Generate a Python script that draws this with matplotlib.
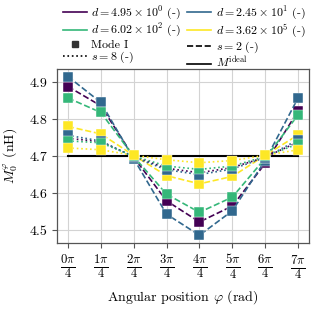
import numpy as np
import matplotlib
matplotlib.use("Agg")
import matplotlib.pyplot as plt
from matplotlib.lines import Line2D

plt.rcParams['font.family'] = ['cmr10', 'DejaVu Serif']
plt.rcParams['mathtext.fontset'] = 'cm'
plt.rcParams['axes.unicode_minus'] = False
plt.rcParams['axes.formatter.use_mathtext'] = True

positions = [0, 1, 2, 3, 4, 5, 6, 7]
tick_labels = [r"$\frac{%d\pi}{4}$" % k for k in positions]
d_labels = [r"$d = 4.95\times10^{0}$ (-)", r"$d = 2.45\times10^{1}$ (-)",
            r"$d = 6.02\times10^{2}$ (-)", r"$d = 3.62\times10^{5}$ (-)"]
colors = ["#440154", "#31688e", "#35b779", "#fde725"]

# s = 2 (dashed)
s2_purple = [4.888, 4.836, 4.697, 4.579, 4.522, 4.565, 4.680, 4.822]
s2_blue   = [4.915, 4.845, 4.693, 4.543, 4.486, 4.552, 4.688, 4.857]
s2_green  = [4.857, 4.818, 4.699, 4.597, 4.548, 4.589, 4.694, 4.811]
s2_yellow = [4.780, 4.760, 4.702, 4.647, 4.625, 4.645, 4.702, 4.757]
# s = 8 (dotted)
s8_purple = [4.748, 4.739, 4.699, 4.667, 4.655, 4.669, 4.697, 4.738]
s8_blue   = [4.756, 4.741, 4.697, 4.663, 4.650, 4.665, 4.696, 4.744]
s8_green  = [4.741, 4.736, 4.700, 4.673, 4.664, 4.673, 4.699, 4.733]
s8_yellow = [4.722, 4.717, 4.702, 4.690, 4.682, 4.688, 4.702, 4.717]
m_ideal = 4.701

s2_all = [s2_purple, s2_blue, s2_green, s2_yellow]
s8_all = [s8_purple, s8_blue, s8_green, s8_yellow]

fig = plt.figure(figsize=(3.12, 3.10), dpi=100)
ax = fig.add_axes([0.183, 0.216, 0.807, 0.561])

ax.plot([positions[0], positions[-1]], [m_ideal, m_ideal], color='black', lw=1.5, zorder=2)

for vals, c in zip(s2_all, colors):
    ax.plot(positions, vals, ls='--', color=c, lw=1.2, marker='s', ms=6.5,
            mec='white', mew=0.3, zorder=3)
for vals, c in zip(s8_all, colors):
    ax.plot(positions, vals, ls=':', color=c, lw=1.2, marker='s', ms=6.5,
            mec='white', mew=0.3, zorder=3)

ax.set_xlim(-0.33, 7.33)
ax.set_ylim(4.465, 4.935)
ax.set_xticks(positions)
ax.set_xticklabels(tick_labels, fontsize=13)
ax.set_yticks([4.5, 4.6, 4.7, 4.8, 4.9])
ax.set_yticklabels(["4.5", "4.6", "4.7", "4.8", "4.9"], fontsize=10)
ax.grid(True, color='#d3d3d3', lw=0.8)
ax.set_axisbelow(True)
for sp in ax.spines.values():
    sp.set_color('#555555')
    sp.set_linewidth(0.9)
ax.tick_params(direction='out', length=3.5, width=0.8, color='#555555')

ax.set_xlabel(r"Angular position $\varphi$ (rad)", fontsize=10, labelpad=5)
ax.set_ylabel(r"$M_0^{\varphi}$ (nH)", fontsize=10, labelpad=7)

handles = [
    Line2D([], [], color=colors[0], lw=1.2),
    Line2D([], [], color=colors[2], lw=1.2),
    Line2D([], [], color='#333333', ls='none', marker='s', ms=5),
    Line2D([], [], color='black', ls=':', lw=1.2),
    Line2D([], [], color=colors[1], lw=1.2),
    Line2D([], [], color=colors[3], lw=1.2),
    Line2D([], [], color='black', ls='--', lw=1.2),
    Line2D([], [], color='black', ls='-', lw=1.2),
]
labels = [d_labels[0], d_labels[2], "Mode I", r"$s = 8$ (-)",
          d_labels[1], d_labels[3], r"$s = 2$ (-)", r"$M^{\mathrm{ideal}}$"]
ax.legend(handles, labels, ncol=2, loc='lower center', bbox_to_anchor=(0.505, 0.98),
          frameon=False, fontsize=8.6, handlelength=2.0, handletextpad=0.4,
          columnspacing=0.5, labelspacing=0.0, borderaxespad=0.0,
          borderpad=0.2)

fig.savefig("out.png", dpi=100)
